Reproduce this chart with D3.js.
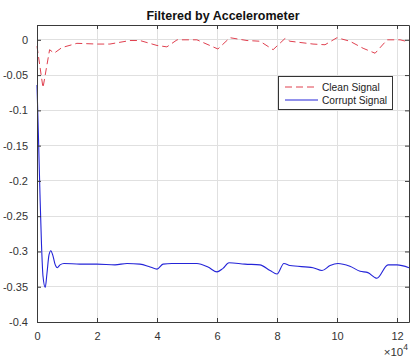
<!DOCTYPE html>
<html><head><meta charset="utf-8">
<script src="https://cdn.jsdelivr.net/npm/d3@7"></script>
<style>html,body{margin:0;padding:0;background:#fff;}svg{display:block;font-family:"Liberation Sans",Arial,sans-serif;}</style>
</head><body>
<svg id="c" width="411" height="360"></svg>
<script>
const title = "Filtered by Accelerometer";
const seriesNames = ["Clean Signal", "Corrupt Signal"];
const xTicks = [0, 20000, 40000, 60000, 80000, 100000, 120000];
const xTickLabels = ["0", "2", "4", "6", "8", "10", "12"];
const yTicks = [0, -0.05, -0.1, -0.15, -0.2, -0.25, -0.3, -0.35, -0.4];
const yTickLabels = ["0", "-0.05", "-0.1", "-0.15", "-0.2", "-0.25", "-0.3", "-0.35", "-0.4"];
const xExponent = "4";

const cleanX = [0, 2000, 4200, 5700, 8300, 13300, 20000, 24300, 31000, 34300, 40000, 43300, 46700, 53300, 60300, 64300, 70000, 74300, 78700, 82700, 84300, 92000, 96000, 100000, 104300, 108700, 112700, 116700, 121000, 124000];
const cleanY = [-0.009, -0.068, -0.014, -0.019, -0.011, -0.005, -0.006, -0.006, -0.001, -0.001, -0.008, -0.010, 0, 0, -0.013, 0.003, -0.001, -0.002, -0.014, 0.002, -0.002, -0.006, -0.007, 0.003, -0.002, -0.012, -0.019, 0, 0, -0.003];

const corruptX = [0, 500, 1000, 1500, 2000, 2750, 3300, 4000, 4600, 5300, 6000, 6770, 7670, 9000, 14300, 20000, 26000, 30000, 34300, 37700, 40000, 42000, 45000, 53300, 57000, 60000, 62000, 64000, 69300, 74300, 77700, 80000, 82300, 84300, 92000, 95000, 97700, 100300, 104300, 107700, 110300, 113300, 117000, 120000, 124000];
const corruptY = [-0.064, -0.14, -0.22, -0.29, -0.335, -0.351, -0.332, -0.305, -0.299, -0.306, -0.318, -0.323, -0.319, -0.317, -0.318, -0.318, -0.319, -0.317, -0.318, -0.322, -0.325, -0.318, -0.317, -0.317, -0.322, -0.329, -0.324, -0.316, -0.318, -0.319, -0.327, -0.332, -0.317, -0.320, -0.323, -0.327, -0.320, -0.317, -0.321, -0.328, -0.330, -0.338, -0.319, -0.319, -0.323];

const svg = d3.select("#c");
const L = 37, R = 409, T = 25, B = 322;
const x = d3.scaleLinear().domain([0, 124000]).range([L, R]);
const y = d3.scaleLinear().domain([-0.4, 0.021]).range([B, T]);
const textCol = "#333";

// grid
svg.append("g").selectAll("line").data(xTicks).join("line")
  .attr("x1", d => x(d)).attr("x2", d => x(d)).attr("y1", T).attr("y2", B)
  .attr("stroke", "#e0e0e0").attr("stroke-width", 1).attr("shape-rendering", "crispEdges");
svg.append("g").selectAll("line").data(yTicks).join("line")
  .attr("x1", L).attr("x2", R).attr("y1", d => y(d)).attr("y2", d => y(d))
  .attr("stroke", "#e0e0e0").attr("stroke-width", 1).attr("shape-rendering", "crispEdges");

// lines
const clean = cleanX.map((d, i) => [d, cleanY[i]]);
const corrupt = corruptX.map((d, i) => [d, corruptY[i]]);
const line = d3.line().x(d => x(d[0])).y(d => y(d[1])).curve(d3.curveMonotoneX);
svg.append("path").datum(corrupt).attr("d", line).attr("fill", "none")
  .attr("stroke", "#2424d8").attr("stroke-width", 1.1);
svg.append("path").datum(clean).attr("d", d3.line().x(d => x(d[0])).y(d => y(d[1])).curve(d3.curveLinear))
  .attr("fill", "none").attr("stroke", "#e0404f").attr("stroke-width", 1)
  .attr("stroke-dasharray", "7,4");

// axes (box with inward ticks)
const axBottom = d3.axisBottom(x).tickValues(xTicks).tickSizeInner(-4).tickSizeOuter(0)
  .tickFormat((d, i) => xTickLabels[i]).tickPadding(10);
const gB = svg.append("g").attr("transform", `translate(0,${B})`).call(axBottom);
const axLeft = d3.axisLeft(y).tickValues(yTicks).tickSizeInner(-4).tickSizeOuter(0)
  .tickFormat((d, i) => yTickLabels[i]).tickPadding(9);
const gL = svg.append("g").attr("transform", `translate(${L},0)`).call(axLeft);
const axTop = d3.axisTop(x).tickValues(xTicks).tickSizeInner(-4).tickSizeOuter(0).tickFormat("");
const gT = svg.append("g").attr("transform", `translate(0,${T})`).call(axTop);
const axRight = d3.axisRight(y).tickValues(yTicks).tickSizeInner(-4).tickSizeOuter(0).tickFormat("");
const gR = svg.append("g").attr("transform", `translate(${R},0)`).call(axRight);
[gB, gL, gT, gR].forEach(g => {
  g.select(".domain").attr("stroke", "#3a3a3a").attr("stroke-width", 1);
  g.selectAll(".tick line").attr("stroke", "#3a3a3a");
  g.selectAll("text").attr("fill", textCol).attr("font-size", "11px")
    .attr("font-family", "'Liberation Sans', Arial, sans-serif");
});

// exponent
const ex = svg.append("text").attr("x", 408).attr("y", 356).attr("text-anchor", "end")
  .attr("fill", textCol).attr("font-size", "11.5px");
ex.append("tspan").text("\u00d710");
ex.append("tspan").attr("dy", -6).attr("font-size", "8.5px").text(xExponent);

// title
svg.append("text").attr("x", (L + R) / 2).attr("y", 20).attr("text-anchor", "middle")
  .attr("font-weight", "bold").attr("font-size", "12.5px").attr("fill", "#111").text(title);

// legend
const lg = svg.append("g");
lg.append("rect").attr("x", 278.5).attr("y", 76.5).attr("width", 114).attr("height", 33)
  .attr("fill", "#fff").attr("stroke", "#333").attr("stroke-width", 1);
const entries = [
  {name: seriesNames[0], color: "#e0404f", dash: "7,4", yy: 87},
  {name: seriesNames[1], color: "#2424d8", dash: null, yy: 100}
];
entries.forEach(e => {
  lg.append("line").attr("x1", 285).attr("x2", 318).attr("y1", e.yy).attr("y2", e.yy)
    .attr("stroke", e.color).attr("stroke-width", 1).attr("stroke-dasharray", e.dash);
  lg.append("text").attr("x", 322).attr("y", e.yy + 3.5).attr("font-size", "10.2px")
    .attr("fill", "#222").text(e.name);
});
</script>
</body></html>
